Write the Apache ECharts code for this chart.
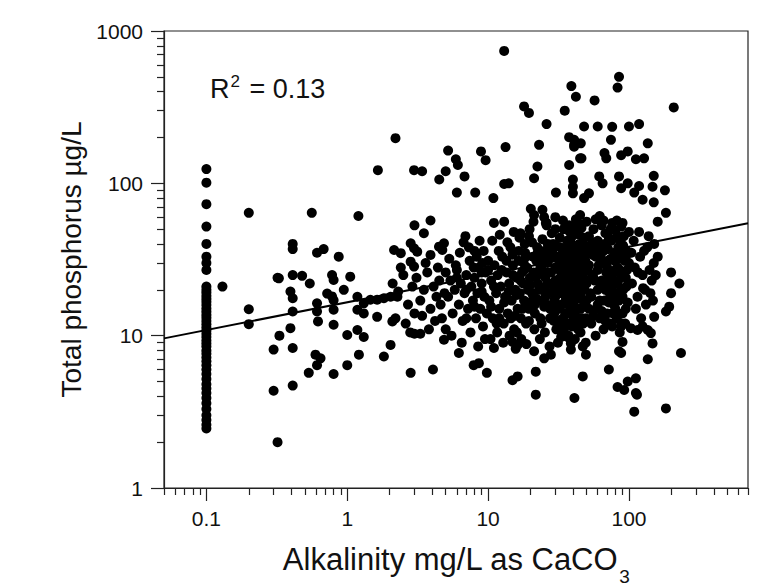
<!DOCTYPE html>
<html><head><meta charset="utf-8">
<script src="https://cdn.jsdelivr.net/npm/echarts@6/dist/echarts.min.js"></script>
<style>html,body{margin:0;padding:0;background:#fff}#c{width:771px;height:588px}</style>
</head><body><div id="c"></div>
<script>
const xMajorTicks=[0.1,1,10,100];
const xTickLabels=['0.1','1','10','100'];
const xMinorTicks=[0.05,0.06,0.07,0.08,0.09,0.2,0.3,0.4,0.5,0.6,0.7,0.8,0.9,2,3,4,5,6,7,8,9,20,30,40,50,60,70,80,90,200,300,400,500,600,700];
const yMajorTicks=[1,10,100,1000];
const yTickLabels=['1','10','100','1000'];
const yMinorTicks=[2,3,4,5,6,7,8,9,20,30,40,50,60,70,80,90,200,300,400,500,600,700,800,900];
const fitAlk=[0.05,700];
const fitTP=[9.6,54.7];
const colAlk=0.1;
const colTP=[124,101,73,52,40,33,30,27,21,20,19.2,18.3,17.5,16.7,15.9,15.1,14.4,13.7,13.1,12.5,11.9,11.3,10.8,10.3,9.8,9.3,8.9,8.5,8.0,7.6,7.2,6.8,6.4,6.0,5.6,5.2,4.8,4.5,4.2,3.9,3.6,3.3,3.0,2.8,2.6,2.46];
const sites=[
[0.2,64],[0.13,21],[0.32,24],[0.2,14.9],[0.2,11.9],[0.33,10],[0.3,8.1],[0.3,4.35],[0.32,2.0],
[0.56,64],[0.41,40],[0.41,37],[0.61,35],[0.68,37],[0.87,33],
[0.327,23.8],[0.41,25],[0.478,24.7],[0.542,22],[0.78,25],[0.8,23.2],[0.945,20],[0.395,19.5],[0.41,17.6],[0.72,18.9],[0.78,18.1],[0.61,16.3],[0.61,14.4],[0.62,12.4],[0.41,14.4],[0.8,17.1],[0.8,14.8],[0.8,11.8],[0.395,11.2],[0.41,8.3],[0.595,7.5],[0.646,7.1],[0.61,6.4],[0.533,5.7],[0.8,5.6],[0.41,4.7],
[1.0,10.1],[1.18,18],[1.31,16.3],[1.46,17.2],[1.63,17.2],[1.82,17.6],[2.03,18],[2.27,18],[1.18,14.8],[1.31,14],[1.63,13.3],[1.18,10.9],[1.31,9.8],[1.05,24.4],[1.0,6.4],[1.21,7.5],[1.82,7.3],[2.03,8.7],[2.09,12.4],[2.82,5.7],[4.06,6.0],[1.2,61],[1.65,122],[2.2,198],[2.15,36.5],[2.4,34.8],[2.82,40.4],[2.98,37.5],[3.14,35.6],[2.82,30.6],[2.98,28.4],[3.0,53],[3.5,47],[3.9,57],[2.98,122],[3.4,120],
[3.9,33.9],[4.48,38.4],[4.86,40.4],[4.73,36.5],[6.7,41],[5.2,164],[8.9,162],[9.6,142],[5.9,144],[6.1,132],[5.0,120],[4.5,106],[6.8,111],[6.0,87],[8.1,87],[4.86,9.4],[6.2,7.7],[7.9,6.4],[8.6,6.6],[9.8,5.7],[3.0,10.3],[3.3,10.3],
[13,740],[18,320],[19.5,290],[26,245],[23,179],[13.3,173],[22.4,129],[21.2,108],[13,99],[14,100],[10.9,80],[30.3,87],[20.1,68],[24.3,67],[21.2,62],[25,60],[25.7,55],[11,55],[13,56],[21,56],[26,53],[17,47],[19.5,45],[11,8.3],[14.9,5.1],[16.2,5.4],[21.8,4.1],[21.8,5.8],[21.2,7.9],[25,7.1],[27.9,7.5],[16.2,8.7],[14.9,9.1],
[39,435],[42,370],[35,300],[37.6,201],[40.8,193],[40.8,179],[45,146],[37.6,132],[40,106],[40,95],[40,86],[37.6,53],[43,56],[85,500],[83,425],[57,350],[208,315],[48,236],[60,236],[76,235],[100,236],[118,245],[45.5,183],[40.8,174],[74.5,193],[136,183],[46,146],[67,158],[69,146],[88,153],[98,162],[112,144],[128,146],[61.5,111],[65,100],[85,111],[98,100],[88,93],[52,86],[48,80],[118,96],[109,87],[125,78],[150,112],[147,95],[150,75],[180,90],[183,64],[160,56],[36.6,52],[43,48],
[151,40],[160,33],[199,26],[228,22],[199,19],[193,15.5],[183,14.4],[151,13.3],[125,11.5],[136,10.9],[143,10.4],[115,10.9],[103,11.2],[88,11.5],[147,8.9],[90,9.1],[88,7.7],[136,7.0],[234,7.7],[72,6.0],[47,5.4],[83,4.6],[98,5.0],[112,5.25],[92.5,4.4],[112,4.2],[41,3.9],[47,8.5],[49.5,7.5],[36.6,9.8],[38.7,8.9],[33,12],[34.5,10.9],[85,7.9],[38.7,8.1],[114,4.1],[109,3.17],[183,3.33],[33,9.8],[38.7,9.3],
[2.1,22],[2.3,19.5],[2.5,25],[2.7,16],[2.9,21],[3.1,24],[3.3,17],[3.5,20],[3.7,26],[3.9,15],[4.1,21],[4.3,18],[4.5,23],[4.7,13],[4.9,19],[2.2,13],[2.6,12],[3.0,14],[3.4,13.5],[3.8,11],[4.2,12.5],[4.6,16],[5.0,26],[2.4,28],[3.6,30],[4.4,28],[2.8,10.5],[5.0,11],
[5.2,18],[5.4,23],[5.6,14],[5.8,20],[6.0,27],[6.2,16],[6.4,22],[6.6,12.5],[6.8,19],[7.0,25],[7.2,15],[7.4,31],[7.6,21],[7.8,17],[8.0,24],[8.2,13],[8.4,19],[8.6,28],[8.8,15],[9.0,22],[9.2,11.5],[9.4,18],[9.6,26],[9.8,14],[5.5,10],[6.5,9],[7.5,10.5],[8.5,8.5],[9.5,9.5],[5.3,32],[6.3,35],[7.3,38],[8.3,33],[9.3,36],[6.9,45],[8.7,42],[5.9,29],[7.9,28],[9.1,30],
[10.2,17],[10.5,23],[10.8,13],[11.1,29],[11.4,19],[11.7,25],[12,15],[12.3,21],[12.6,33],[12.9,12],[13.2,18],[13.5,26],[13.8,14],[14.1,22],[14.4,38],[14.7,17],[15,29],[15.3,11],[15.6,20],[15.9,24],[16.2,15],[16.5,31],[16.8,19],[17.1,13],[17.4,26],[17.7,22],[18,17],[18.3,35],[18.6,12],[18.9,28],[19.2,20],[19.5,15],[19.8,24],[10.4,9.5],[11.6,10.5],[12.8,9],[14.2,10],[15.7,8.2],[17.2,9.5],[18.7,8.8],[10.7,42],[12.1,46],[13.7,41],[15.2,48],[16.7,44],[18.2,40],[19.7,50],[11.9,36],[14.9,34],[17.9,30],
[20.5,19],[21,26],[21.5,14],[22,31],[22.5,22],[23,17],[23.5,28],[24,12],[24.5,20],[25,36],[25.5,24],[26,16],[26.5,30],[27,19],[27.5,13],[28,26],[28.5,22],[29,40],[29.5,17],[30,28],[30.5,11],[31,21],[31.5,33],[32,15],[32.5,24],[33,19],[33.5,29],[34,13],[34.5,22],[35,37],[35.5,17],[36,26],[36.5,20],[37,31],[37.5,14],[38,23],[38.5,18],[39,27],[39.5,45],[40,21],[40.5,16],[41,33],[41.5,25],[42,12],[42.5,19],[43,29],[43.5,22],[44,15],[44.5,35],[45,24],[45.5,18],[46,28],[46.5,13],[47,21],[47.5,40],[48,26],[48.5,17],[49,31],[49.5,23],
[20.8,33],[22.3,38],[24.3,43],[26.3,35],[28.3,47],[30.3,39],[32.3,44],[34.3,50],[36.3,42],[38.3,37],[40.3,52],[42.3,39],[44.3,46],[46.3,33],[48.3,44],
[21.3,11],[23.3,9.5],[25.3,10.5],[27.3,8.5],[29.3,12.5],[31.3,9],[33.3,11],[35.3,12],[37.3,10],[39.3,11.5],[41.3,9.5],[43.3,13],[45.3,10.5],[47.3,12],[49.3,9],
[22,17.5],[26,21.5],[30,18],[34,26.5],[38,15.5],[42,23],[46,19.5],[24,25.5],[28,15],[32,29.5],[36,22.5],[40,13.5],[44,27],[48,20.5],
[51,27],[53,19],[55,34],[57,23],[59,15],[61,29],[63,21],[65,39],[67,17],[69,26],[71,31],[73,19],[75,24],[77,14],[79,35],[81,22],[83,28],[85,17],[87,42],[89,25],[91,20],[93,31],[95,15],[97,27],[99,22],
[52,45],[56,50],[60,42],[64,53],[68,47],[72,44],[76,55],[80,49],[84,38],[88,52],[92,45],[96,36],[100,48],
[54,12],[58,10],[62,13],[66,11],[70,14],[74,12],[78,16],[82,13],[86,10.5],[90,14],[94,12],[98,16.5],
[50,17],[55,25],[60,20],[65,30],[70,22],[75,18],[80,27],[85,32],[90,18],[95,24],[100,30],
[105,22],[110,28],[115,18],[120,33],[125,25],[130,20],[135,38],[140,27],[145,23],[150,30],[108,42],[118,48],[128,36],[138,45],[148,17],[112,15],[122,13],[132,16],[142,19],[104,35],[116,26],[126,20.5],[155,25],
[16,18.5],[17,23],[18,27],[19,16.5],[20,21.5],[21,18],[22,24.5],[23,20],[24,29],[25,15.5],[26,26],[27,22],[28,33],[29,19.5],[30,23],[31,16],[32,27],[33,21.5],[34,34],[35,18.5],[36,24],[37,20.5],[38,28],[39,16.5],[40,25],[41,19],[42,30],[43,17.5],[44,23.5],[45,32],[46,21],[47,27],[48,16],[49,36],[50,22],[52,29],[54,18],[56,24],[58,33],[60,27],[62,17],[64,23],[66,36],[68,20],[70,28],[72,24],[74,32],[76,21],[78,26],[80,19],[82,34],[84,23],[86,27],[88,20.5],[92,26],[96,21],
[15.5,13.5],[17.5,15],[19.5,12.5],[21.5,16],[23.5,13],[25.5,18],[27.5,15],[29.5,14],[31.5,12.5],[33.5,16],[35.5,14],[37.5,12],[39.5,18],[41.5,14.5],[43.5,11],[45.5,15],[47.5,17],[49.5,13],[52,15],[56,13.5],[60,16],[64,14.5],[68,12.5],[72,16.5],[76,11.5],[80,15],[84,14],[88,12],
[16.5,36],[18.5,33],[20.5,41],[22.5,35],[24.5,32],[26.5,40],[28.5,36],[30.5,33],[32.5,38],[34.5,30],[36.5,35],[38.5,41],[40.5,30],[42.5,36],[44.5,40],[46.5,37],[48.5,34],[51,38],[55,41],[59,37],[63,33],[67,40],[71,37],[75,42],[79,31],[83,45],[87,35],[91,39],[95,33],
[26,55],[30,50],[34,57],[38,48],[42,58],[46,51],[50,56],[58,58],[66,57],[74,50],[82,57],[90,55],[30,60],[45,62],[62,61],
[12,13],[13,16.5],[14,19.5],[15,25],[16,10.5],[11,21],[12.5,27],[13.5,31],[14.5,13],[10,27],[10.5,15.5],[11.5,12],[9,19.5],[8,15.5],[7,13],[6,24],[7,20],[8,36],[9,26],[10,31]
];

const FONT='"Liberation Sans", Arial, sans-serif';
const INK='#111';
function near(v,arr){for(let i=0;i<arr.length;i++){if(Math.abs(Math.log10(v)-Math.log10(arr[i]))<1e-6)return i;}return -1;}

const points=colTP.map(v=>[colAlk,v]).concat(sites);
const fitLine=fitAlk.map((x,i)=>[x,fitTP[i]]);

const baseAxis={type:'log',logBase:10,splitLine:{show:false},minorTick:{show:false},minorSplitLine:{show:false}};
const chart=echarts.init(document.getElementById('c'),null,{renderer:'svg'});
chart.setOption({
  animation:false,
  backgroundColor:'#fff',
  grid:{left:164,right:23,top:31,bottom:100,containLabel:false,outerBoundsMode:'none',show:true,borderColor:'#222',borderWidth:1.2,backgroundColor:'transparent'},
  xAxis:[
    Object.assign({},baseAxis,{min:0.05,max:700,position:'bottom',
      axisLine:{show:true,onZero:false,lineStyle:{color:'#222',width:1.2}},
      axisTick:{show:true,length:13,customValues:xMajorTicks,lineStyle:{color:'#222',width:1.2}},
      axisLabel:{show:true,customValues:xMajorTicks,margin:20,fontSize:21,fontFamily:FONT,color:INK,
        formatter:v=>{const i=near(v,xMajorTicks);return i<0?'':xTickLabels[i];}},
      name:'Alkalinity mg/L as CaCO{sub|3}',nameLocation:'middle',nameGap:44,
      nameTextStyle:{fontSize:31,fontFamily:FONT,color:INK,rich:{sub:{fontSize:19,fontFamily:FONT,color:INK,padding:[35,0,0,1]}}}
    }),
    Object.assign({},baseAxis,{min:0.05,max:700,position:'bottom',
      axisLine:{show:false,onZero:false},
      axisTick:{show:true,length:7,customValues:xMinorTicks,lineStyle:{color:'#222',width:1.2}},
      axisLabel:{show:false}
    })
  ],
  yAxis:[
    Object.assign({},baseAxis,{min:1,max:1000,position:'left',
      axisLine:{show:true,onZero:false,lineStyle:{color:'#222',width:1.2}},
      axisTick:{show:true,length:13,customValues:yMajorTicks,lineStyle:{color:'#222',width:1.2}},
      axisLabel:{show:true,customValues:yMajorTicks,margin:21,fontSize:21,fontFamily:FONT,color:INK,
        formatter:v=>{const i=near(v,yMajorTicks);return i<0?'':yTickLabels[i];}},
      name:'Total phosphorus µg/L',nameLocation:'middle',nameGap:73,
      nameTextStyle:{fontSize:28,fontFamily:FONT,color:INK}
    }),
    Object.assign({},baseAxis,{min:1,max:1000,position:'left',
      axisLine:{show:false,onZero:false},
      axisTick:{show:true,length:7,customValues:yMinorTicks,lineStyle:{color:'#222',width:1.2}},
      axisLabel:{show:false}
    })
  ],
  graphic:[{type:'text',left:210,top:73,z:10,style:{text:'R{sup|2} = 0.13',fontSize:27,fontFamily:FONT,fill:INK,
    rich:{sup:{fontSize:17,fontFamily:FONT,fill:INK,padding:[0,2,14,1]}}}}],
  series:[
    {type:'line',xAxisIndex:0,yAxisIndex:0,data:fitLine,showSymbol:false,symbol:'none',lineStyle:{color:'#000',width:2},z:2,silent:true},
    {type:'scatter',xAxisIndex:0,yAxisIndex:0,data:points,symbol:'circle',symbolSize:10,itemStyle:{color:'#000',opacity:1},z:3,silent:true}
  ]
});
</script></body></html>
